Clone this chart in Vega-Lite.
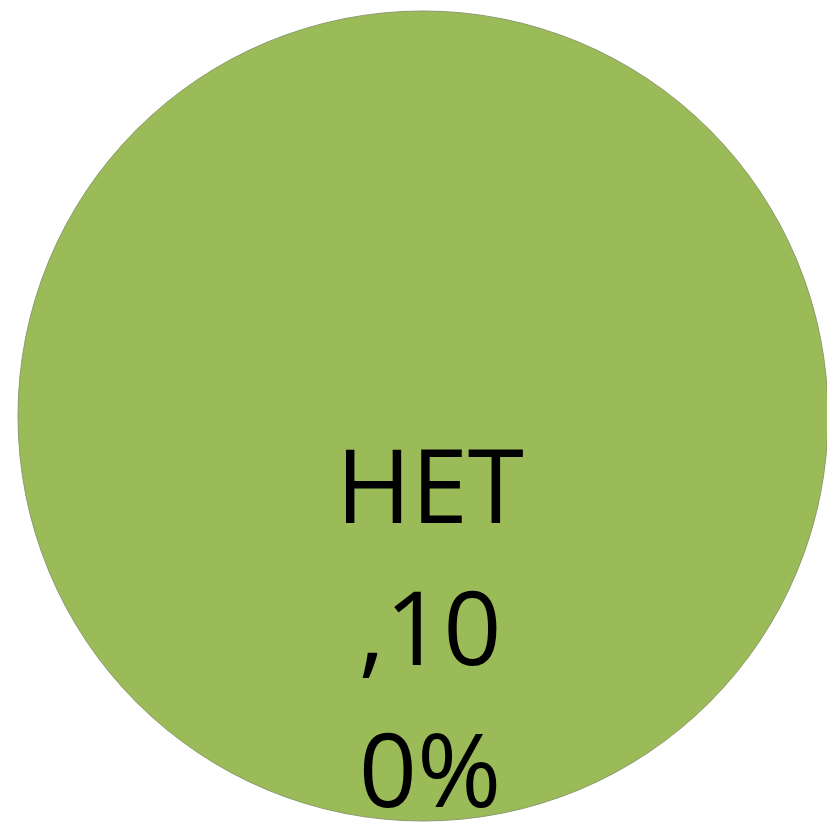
{
  "$schema": "https://vega.github.io/schema/vega-lite/v6.json",
  "width": 808,
  "height": 814,
  "autosize": {"type": "none"},
  "padding": {"left": 19, "top": 9, "right": 0, "bottom": 0},
  "background": "white",
  "view": {"stroke": null},
  "data": {"values": [{"category": "НЕТ", "value": 100, "label": ["НЕТ", ",10", "0%"]}]},
  "encoding": {
    "theta": {"field": "value", "type": "quantitative", "stack": true}
  },
  "layer": [
    {
      "mark": {"type": "arc", "radius": 405, "stroke": "#8a9b6c", "strokeWidth": 1},
      "encoding": {
        "color": {"field": "category", "type": "nominal", "scale": {"range": ["#9bbb59"]}, "legend": null}
      }
    },
    {
      "mark": {"type": "text", "radius": 107, "dx": 7, "font": "Open Sans", "fontSize": 102, "lineHeight": 142, "baseline": "alphabetic", "align": "center", "color": "black"},
      "encoding": {
        "text": {"field": "label"}
      }
    }
  ]
}
